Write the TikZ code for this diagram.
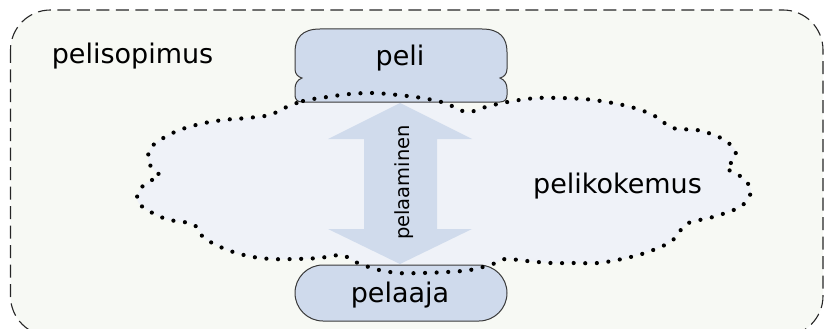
\documentclass[tikz,border=0pt]{standalone}
\usepackage{fontspec}
\setmainfont{DejaVu Sans}
\definecolor{outerfill}{HTML}{F7F9F4}
\definecolor{cloudfill}{HTML}{EFF2F8}
\definecolor{boxfill}{HTML}{CFDAEC}
\definecolor{arrowfill}{HTML}{D0DBEC}
\definecolor{edgegray}{HTML}{3A3A3A}
\tikzset{
  lbl/.style={font=\fontsize{27}{30}\selectfont, anchor=base, inner sep=0pt, text=black},
  boxshape/.style={draw=edgegray, line width=1pt, fill=boxfill},
  dotline/.style={line width=4.2pt, line cap=round, dash pattern=on 0pt off 11.6pt, draw=black},
}
\begin{document}
\begin{tikzpicture}[x=1pt,y=-1pt]
\useasboundingbox (0,0) rectangle (825,329);
\clip (0,0) rectangle (825,329);
% outer dashed box
\draw[fill=outerfill, draw=black!85, line width=1.1pt, dash pattern=on 13pt off 6.5pt, rounded corners=40pt]
  (10.5,10) rectangle (823,336);
% cloud fill
\def\cloudpath{plot[smooth cycle, tension=0.55] coordinates {
 (282,109) (303,101) (327,97) (350,94) (373,93) (398,95) (422,98) (445,103) (467,112)
 (489,106) (513,101) (537,98) (560,98) (584,99) (607,102) (631,107) (653,115) (673,128)
 (697,130) (719,137) (733,147) (736,155) (732,162) (726,168) (737,174) (746,181) (751,191)
 (746,202) (736,209) (713,217) (691,222) (683,227) (676,237) (667,244) (645,253) (622,259)
 (598,263) (574,263) (551,263) (527,261) (505,259) (493,264) (470,270) (447,272) (422,273)
 (398,273) (375,269) (353,261) (342,255) (319,258) (295,259) (271,259) (248,256) (225,249)
 (204,238) (198,228) (189,223) (166,219) (144,208) (137,199) (141,188) (150,181) (160,176)
 (156,172) (149,163) (149,151) (157,142) (177,131) (200,124) (223,120) (247,118) (270,115)}}
\fill[cloudfill] \cloudpath;
% peli shape
\path[boxshape] (320,29) -- (482,29) .. controls (500,29) and (507,38) .. (507,52) -- (507,69)
  .. controls (507,74) and (504,77) .. (500,78) .. controls (505,80) and (507,84) .. (507,89)
  -- (507,95) .. controls (507,99) and (505,102) .. (500,102) -- (302,102)
  .. controls (297,102) and (295,99) .. (295,95) -- (295,89)
  .. controls (295,84) and (297,80) .. (302,78) .. controls (298,77) and (295,74) .. (295,69)
  -- (295,52) .. controls (295,38) and (302,29) .. (320,29) -- cycle;
% pelaaja shape
\path[boxshape, rounded corners=28pt] (295,265) rectangle (507,321);
% double arrow
\fill[arrowfill] (400,103) -- (472,139) -- (437,139) -- (437,229) -- (472,229) -- (400,264)
  -- (328,229) -- (364,229) -- (364,139) -- (328,139) -- cycle;
% dotted outline
\draw[dotline] \cloudpath;
% labels
\node[lbl] (peli) at (400,65.5) {peli};
\node[lbl] (pelaaja) at (400,302.5) {pelaaja};
\node[lbl] (pelisopimus) at (132.5,63.7) {pelisopimus};
\node[lbl] (pelikokemus) at (617.5,193) {pelikokemus};
\node[lbl, font=\fontsize{19.5}{22}\selectfont, rotate=90] (pelaaminen) at (409,182.5) {pelaaminen};
\end{tikzpicture}
\end{document}
